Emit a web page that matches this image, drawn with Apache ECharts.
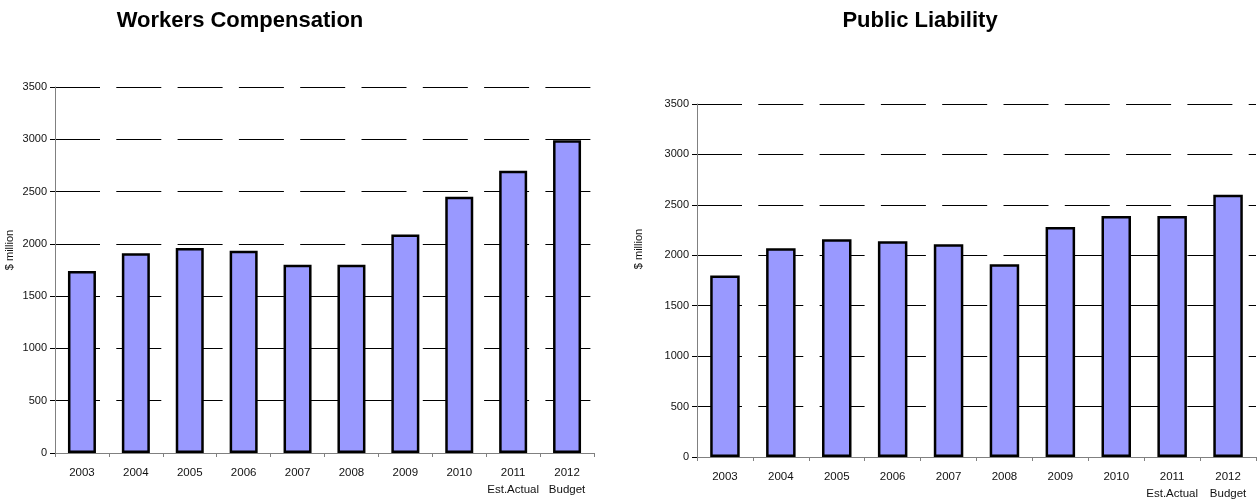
<!DOCTYPE html>
<html>
<head>
<meta charset="utf-8">
<script src="https://cdn.jsdelivr.net/npm/echarts@6/dist/echarts.min.js"></script>
<style>
html,body{margin:0;padding:0;background:#fff;}
#chart{width:1258px;height:502px;}
</style>
</head>
<body>
<div id="chart"></div>
<script>
const categories = ['2003','2004','2005','2006','2007','2008','2009','2010','2011\nEst.Actual','2012\nBudget'];
const workersComp = [1740, 1910, 1960, 1935, 1800, 1800, 2090, 2450, 2700, 2990];
const publicLiability = [1800, 2070, 2160, 2140, 2110, 1910, 2280, 2390, 2390, 2600];
const titles = ['Workers Compensation', 'Public Liability'];
const yAxisName = '$ million';
const yMax = 3500, yInterval = 500;

const chart = echarts.init(document.getElementById('chart'), null, {renderer:'canvas'});
const labelFont = 'Liberation Sans, Arial, sans-serif';

function xAxis(gi, margin){
  return {
    type:'category', gridIndex:gi, data:categories,
    axisLine:{lineStyle:{color:'#808080', width:1}},
    axisTick:{show:true, alignWithLabel:false, length:4, lineStyle:{color:'#808080'}},
    axisLabel:{color:'#111', fontFamily:labelFont, fontSize:11.5, margin:margin, lineHeight:17, interval:0}
  };
}
function yAxis(gi){
  return {
    type:'value', gridIndex:gi, min:0, max:yMax, interval:yInterval,
    axisLine:{show:true, lineStyle:{color:'#808080', width:1}},
    axisTick:{show:true, length:5, lineStyle:{color:'#000'}},
    axisLabel:{color:'#111', fontFamily:labelFont, fontSize:11, margin:8, formatter:function(v){return String(v);}},
    splitLine:{show:true, lineStyle:{color:'#000', width:1, type:[45,16.3]}}
  };
}
function barSeries(gi, data, bw){
  return {
    type:'bar', xAxisIndex:gi, yAxisIndex:gi, data:data, barWidth:bw,
    itemStyle:{color:'#9999FF', borderColor:'#000', borderWidth:2.5},
    emphasis:{disabled:true}
  };
}

chart.setOption({
  animation:false,
  backgroundColor:'#fff',
  title:[
    {text:titles[0], left:235, top:5, textAlign:'center', textStyle:{fontFamily:labelFont, fontWeight:'bold', fontSize:22, color:'#000'}},
    {text:titles[1], left:915, top:5, textAlign:'center', textStyle:{fontFamily:labelFont, fontWeight:'bold', fontSize:22, color:'#000'}}
  ],
  grid:[
    {left:55, top:87, width:539, bottom:49, containLabel:false},
    {left:697, top:104, width:559, bottom:42, containLabel:false}
  ],
  xAxis:[xAxis(0, 11), xAxis(1, 11)],
  yAxis:[yAxis(0), yAxis(1)],
  series:[barSeries(0, workersComp, 28), barSeries(1, publicLiability, 29.5)],
  graphic:[
    {type:'text', x:10, y:250, rotation:Math.PI/2, style:{text:yAxisName, fontFamily:labelFont, fontSize:11, fill:'#111', align:'center', verticalAlign:'middle'}},
    {type:'text', x:639, y:249, rotation:Math.PI/2, style:{text:yAxisName, fontFamily:labelFont, fontSize:11, fill:'#111', align:'center', verticalAlign:'middle'}}
  ]
});
</script>
</body>
</html>
